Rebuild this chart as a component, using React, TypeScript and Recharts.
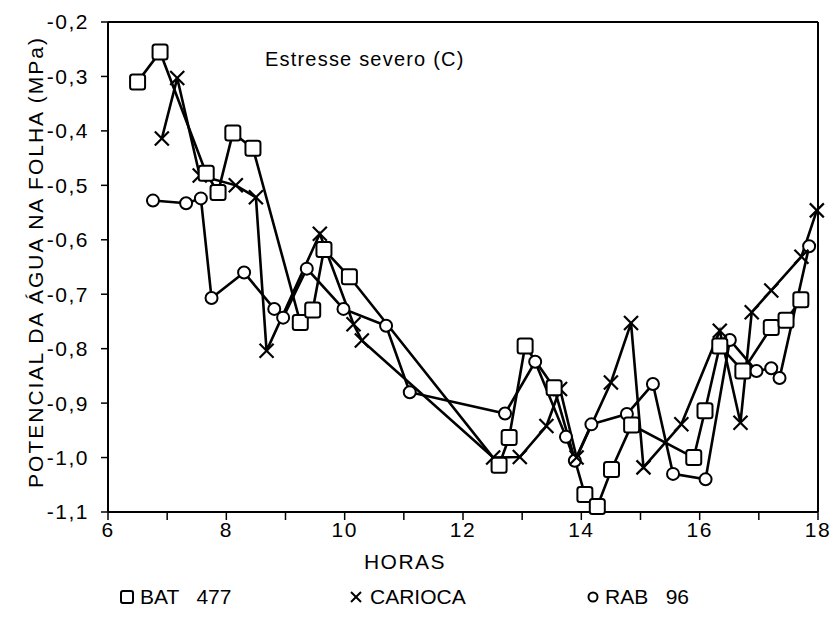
import React from "react";
import { LineChart, Line, XAxis, YAxis, ReferenceLine } from "recharts";

const FONT = '"Liberation Sans", Arial, sans-serif';

// horas / potencial (MPa)
const batHoras = [6.5, 6.88, 7.66, 7.86, 8.11, 8.45, 9.25, 9.46, 9.65, 10.08, 12.61, 12.78, 13.05, 13.54, 14.06, 14.27, 14.51, 14.85, 15.9, 16.09, 16.34, 16.73, 17.21, 17.46, 17.71];
const batPotencial = [-0.31, -0.255, -0.478, -0.513, -0.404, -0.432, -0.752, -0.729, -0.618, -0.668, -1.014, -0.963, -0.795, -0.872, -1.068, -1.09, -1.022, -0.94, -1.0, -0.914, -0.795, -0.841, -0.761, -0.748, -0.71];

const cariocaHoras = [6.91, 7.17, 7.55, 8.16, 8.5, 8.68, 9.58, 10.15, 10.29, 12.51, 12.96, 13.41, 13.64, 13.92, 14.5, 14.84, 15.05, 15.69, 16.34, 16.69, 16.88, 17.21, 17.72, 17.98];
const cariocaPotencial = [-0.414, -0.303, -0.482, -0.5, -0.522, -0.804, -0.589, -0.755, -0.785, -1.0, -0.999, -0.942, -0.874, -1.0, -0.862, -0.753, -1.018, -0.939, -0.767, -0.936, -0.733, -0.693, -0.631, -0.546];

const rabHoras = [6.76, 7.32, 7.57, 7.75, 8.3, 8.81, 8.96, 9.36, 9.98, 10.7, 11.1, 12.71, 13.22, 13.74, 13.89, 14.17, 14.77, 15.21, 15.55, 16.1, 16.51, 16.96, 17.21, 17.35, 17.85];
const rabPotencial = [-0.528, -0.533, -0.524, -0.707, -0.66, -0.727, -0.743, -0.653, -0.727, -0.758, -0.88, -0.919, -0.824, -0.962, -1.006, -0.939, -0.92, -0.865, -1.03, -1.04, -0.784, -0.841, -0.836, -0.854, -0.612];

const horaTicks = [6, 7, 8, 9, 10, 11, 12, 13, 14, 15, 16, 17, 18];
const potencialTicks = [-1.1, -1.0, -0.9, -0.8, -0.7, -0.6, -0.5, -0.4, -0.3, -0.2];

const toPoints = (hs: number[], vs: number[]) => hs.map((h, i) => ({ h, v: vs[i] }));
const batData = toPoints(batHoras, batPotencial);
const cariocaData = toPoints(cariocaHoras, cariocaPotencial);
const rabData = toPoints(rabHoras, rabPotencial);

const Square = (p: any) => (
  <rect key={p.key} x={p.cx - 7.5} y={p.cy - 7.5} width={15} height={15} rx={2.5} fill="#fff" stroke="#000" strokeWidth={2} />
);
const Cross = (p: any) => (
  <g key={p.key} stroke="#000" strokeWidth={2.2}>
    <line x1={p.cx - 7} y1={p.cy - 7} x2={p.cx + 7} y2={p.cy + 7} />
    <line x1={p.cx - 7} y1={p.cy + 7} x2={p.cx + 7} y2={p.cy - 7} />
  </g>
);
const Circ = (p: any) => <circle key={p.key} cx={p.cx} cy={p.cy} r={6} fill="#fff" stroke="#000" strokeWidth={2} />;

const fmt = (v: number) => v.toFixed(1).replace(".", ",");

export default function App() {
  const tickStyle = { fill: "#000", fontSize: 21, fontFamily: FONT, letterSpacing: 1.5 };
  return (
    <div style={{ position: "absolute", left: 0, top: 0, width: 838, height: 620, background: "#fff", fontFamily: FONT, color: "#000" }}>
      <LineChart width={838} height={620} margin={{ top: 22, right: 20, bottom: 78, left: 0 }}>
        <XAxis
          type="number"
          dataKey="h"
          domain={[6, 18]}
          ticks={horaTicks}
          tickFormatter={(h: number) => (h % 2 === 0 ? String(h) : "")}
          height={30}
          tick={tickStyle}
          tickSize={8}
          tickMargin={2}
          axisLine={{ stroke: "#000", strokeWidth: 2 }}
          tickLine={{ stroke: "#000", strokeWidth: 1.5 }}
          allowDuplicatedCategory={false}
        />
        <YAxis
          type="number"
          domain={[-1.1, -0.2]}
          ticks={potencialTicks}
          tickFormatter={fmt}
          width={108}
          tick={tickStyle}
          tickSize={7}
          tickMargin={12}
          axisLine={{ stroke: "#000", strokeWidth: 2 }}
          tickLine={{ stroke: "#000", strokeWidth: 1.5 }}
        />
        <ReferenceLine y={-0.2} stroke="#000" strokeWidth={2} />
        <ReferenceLine x={18} stroke="#000" strokeWidth={2} />
        <Line data={rabData} dataKey="v" stroke="#000" strokeWidth={2.6} dot={Circ} isAnimationActive={false} />
        <Line data={cariocaData} dataKey="v" stroke="#000" strokeWidth={2.6} dot={Cross} isAnimationActive={false} />
        <Line data={batData} dataKey="v" stroke="#000" strokeWidth={2.6} dot={Square} isAnimationActive={false} />
      </LineChart>

      <div style={{ position: "absolute", left: 265, top: 48, fontSize: 20, letterSpacing: 1.2 }}>Estresse severo (C)</div>

      <div
        style={{
          position: "absolute",
          left: 36,
          top: 262,
          transform: "translate(-50%, -50%) rotate(-90deg)",
          whiteSpace: "nowrap",
          fontSize: 21,
          letterSpacing: 2,
        }}
      >
        POTENCIAL DA ÁGUA NA FOLHA (MPa)
      </div>

      <div style={{ position: "absolute", left: 405, top: 562, transform: "translate(-50%, -50%)", fontSize: 21, letterSpacing: 1.5 }}>
        HORAS
      </div>

      <div style={{ position: "absolute", left: 0, top: 597, width: 838, fontSize: 21 }}>
        <span style={{ position: "absolute", left: 120, top: -12, display: "flex", alignItems: "center", gap: 6 }}>
          <svg width={14} height={14}><rect x={1} y={1} width={12} height={12} rx={2} fill="#fff" stroke="#000" strokeWidth={2} /></svg>
          <span style={{ whiteSpace: "pre" }}>BAT   477</span>
        </span>
        <span style={{ position: "absolute", left: 350, top: -12, display: "flex", alignItems: "center", gap: 8 }}>
          <svg width={12} height={12}><line x1={1} y1={1} x2={11} y2={11} stroke="#000" strokeWidth={2} /><line x1={1} y1={11} x2={11} y2={1} stroke="#000" strokeWidth={2} /></svg>
          <span>CARIOCA</span>
        </span>
        <span style={{ position: "absolute", left: 587, top: -12, display: "flex", alignItems: "center", gap: 6 }}>
          <svg width={12} height={12}><circle cx={6} cy={6} r={4.5} fill="#fff" stroke="#000" strokeWidth={2} /></svg>
          <span style={{ whiteSpace: "pre" }}>RAB   96</span>
        </span>
      </div>
    </div>
  );
}
